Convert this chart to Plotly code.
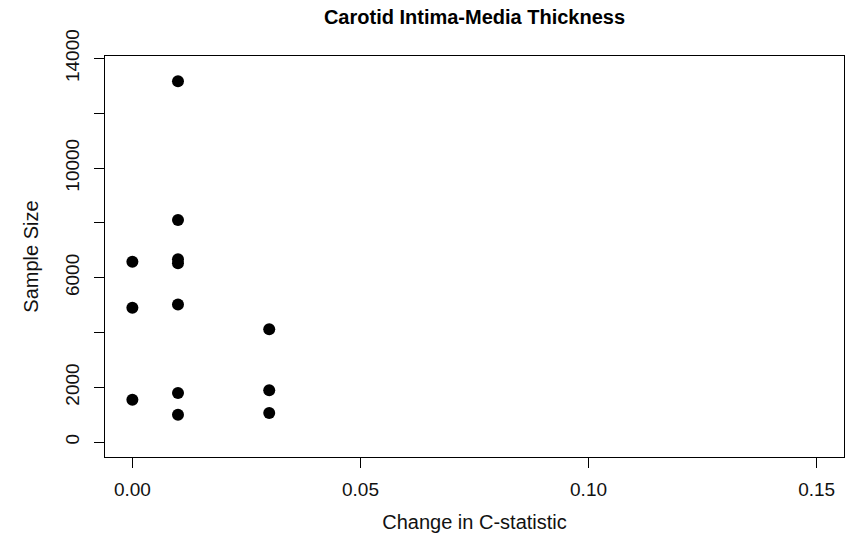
import plotly.graph_objects as go

# Change in C-statistic and sample size for each study
delta_c = [0.00, 0.00, 0.00,
           0.01, 0.01, 0.01, 0.01, 0.01, 0.01, 0.01,
           0.03, 0.03, 0.03]
sample_size = [6585, 4902, 1551,
               13169, 8110, 6673, 6526, 5026, 1793, 1002,
               4123, 1891, 1061]

x_ticks = [0.00, 0.05, 0.10, 0.15]
x_tick_labels = ["0.00", "0.05", "0.10", "0.15"]
y_ticks = [0, 2000, 4000, 6000, 8000, 10000, 12000, 14000]
y_tick_labels = ["0", "2000", "", "6000", "", "10000", "", "14000"]

FONT = "Liberation Sans, Arial, sans-serif"

fig = go.Figure(
    go.Scatter(
        x=delta_c,
        y=sample_size,
        mode="markers",
        marker=dict(size=12, color="black", line=dict(width=0)),
        hoverinfo="x+y",
    )
)

axis_common = dict(
    showgrid=False,
    zeroline=False,
    showline=True,
    mirror=True,
    linecolor="black",
    linewidth=1,
    ticks="outside",
    ticklen=10,
    tickwidth=1,
    tickcolor="black",
    tickfont=dict(family=FONT, size=19, color="#111111"),
)

fig.update_layout(
    width=852,
    height=548,
    paper_bgcolor="white",
    plot_bgcolor="white",
    showlegend=False,
    margin=dict(l=105, r=8, t=56, b=91),
    title=dict(
        text="<b>Carotid Intima-Media Thickness</b>",
        font=dict(family=FONT, size=20, color="black"),
        x=0.5,
        xref="paper",
        xanchor="center",
        y=1 - 17 / 548,
        yref="container",
        yanchor="middle",
    ),
    xaxis=dict(
        axis_common,
        range=[-0.006, 0.156],
        tickvals=x_ticks,
        ticktext=x_tick_labels,
        ticklabelstandoff=5,
        title=dict(text="Change in C-statistic",
                   font=dict(family=FONT, size=20, color="#111111"),
                   standoff=16),
    ),
    yaxis=dict(
        axis_common,
        range=[-542, 14091],
        tickvals=y_ticks,
        ticktext=y_tick_labels,
        tickangle=-90,
        ticklabelstandoff=7,
        title=dict(text="Sample Size",
                   font=dict(family=FONT, size=20, color="#111111"),
                   standoff=18),
    ),
)

fig.write_html("out.html")
